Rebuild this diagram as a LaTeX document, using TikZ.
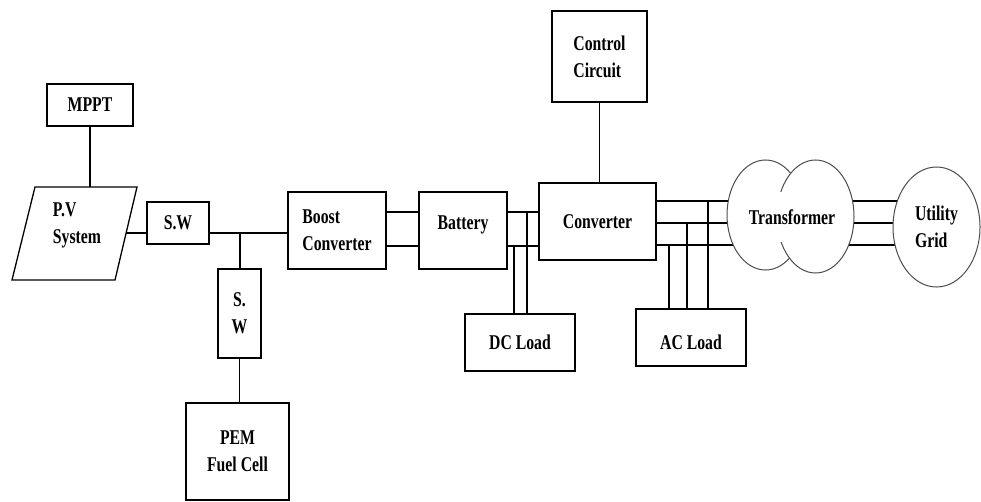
\documentclass[tikz,border=0pt]{standalone}
\usepackage{fontspec}
\setmainfont{Liberation Serif}[FakeStretch=0.75]
\usetikzlibrary{shapes.geometric,backgrounds}
\begin{document}
\begin{tikzpicture}[x=1pt,y=-1pt,
  every node/.style={font=\fontsize{21}{27}\selectfont\bfseries},
  box/.style={draw, line width=1.3pt, inner sep=0pt, align=center},
  oval/.style={ellipse, draw=black!70, line width=1pt, fill=white, inner sep=0pt},
  wire/.style={line width=1.3pt}]
\useasboundingbox (0,0) rectangle (981,502);
% blocks
\node[box, minimum width=86pt, minimum height=42pt] (mppt) at (90,105) {MPPT};
\draw[wire] (35,187) -- (137,187) -- (115,280) -- (12,280) -- cycle;
\node[align=left] (pv) at (77,225) {P.V\\System};
\coordinate (pvtop) at (90,187);
\coordinate (pvr) at (126,233);
\node[box, minimum width=62pt, minimum height=42pt] (sw1) at (178,223) {S.W};
\node[box, minimum width=43pt, minimum height=89pt] (sw2) at (239.5,313.5) {S.\\W};
\node[box, minimum width=103pt, minimum height=97pt] (pem) at (237.5,451.5) {PEM\\Fuel Cell};
\node[box, minimum width=98pt, minimum height=77pt, align=left] (boost) at (337,230.5) {Boost\\Converter};
\node[box, minimum width=88pt, minimum height=77pt, text height=10pt, text depth=12pt] (bat) at (463,230.5) {Battery};
\node[box, minimum width=117pt, minimum height=77pt] (conv) at (597.5,221.5) {Converter};
\node[box, minimum width=95pt, minimum height=91pt, align=left] (ctrl) at (599.5,56.5) {Control\\Circuit};
\node[box, minimum width=110pt, minimum height=57pt] (dc) at (520,342.5) {DC Load};
\node[box, minimum width=110pt, minimum height=57pt, text height=26pt, text depth=2pt] (ac) at (691,337.5) {AC Load};
\node[oval, minimum width=77pt, minimum height=110pt] (t1) at (765.5,215) {};
\node[oval, minimum width=77pt, minimum height=113pt] (t2) at (815.5,216.5) {};
\node[fill=white, inner xsep=1pt, minimum height=50pt] (tr) at (792,217.5) {Transformer};
\node[oval, minimum width=87pt, minimum height=120pt, align=left] (ug) at (936.5,227) {Utility\\Grid};
% helper coordinates
\coordinate (j1) at (240,233);
\coordinate (b1) at (400,212);
\coordinate (b2) at (400,246);
\coordinate (d1) at (527,212);
\coordinate (d2) at (514,246);
\coordinate (p1) at (708,201);
\coordinate (p2) at (687,223);
\coordinate (p3) at (669,245);
% connectors
\draw[wire] (mppt.south) -- (pvtop);
\draw[wire] (pvr) -- (sw1.west |- pvr);
\draw[wire] (sw1.east |- j1) -- (boost.west |- j1);
\draw[wire] (j1) -- (j1 |- sw2.north);
\draw[wire] (sw2.south) -- (sw2.south |- pem.north);
\draw[wire] (boost.east |- b1) -- (bat.west |- b1);
\draw[wire] (boost.east |- b2) -- (bat.west |- b2);
\draw[wire] (bat.east |- b1) -- (conv.west |- b1);
\draw[wire] (bat.east |- b2) -- (conv.west |- b2);
\draw[wire] (d1) -- (d1 |- dc.north);
\draw[wire] (d2) -- (d2 |- dc.north);
\draw[wire] (ctrl.south) -- (ctrl.south |- conv.north);
\draw[wire] (p1) -- (p1 |- ac.north);
\draw[wire] (p2) -- (p2 |- ac.north);
\draw[wire] (p3) -- (p3 |- ac.north);
\begin{scope}[on background layer]
\foreach \p in {p1,p2,p3} {
  \draw[wire] (conv.east |- \p) -- (t1.center |- \p);
  \draw[wire] (t2.center |- \p) -- (ug.center |- \p);
}
\end{scope}
\end{tikzpicture}
\end{document}
